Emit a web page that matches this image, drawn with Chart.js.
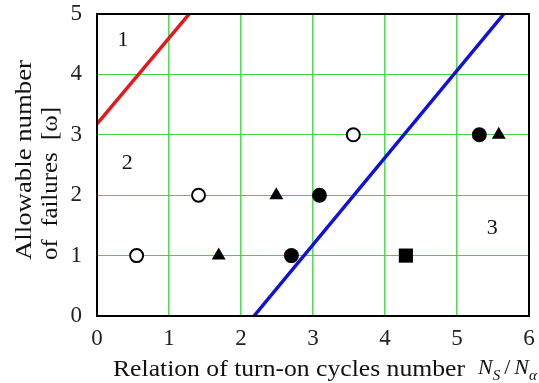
<!DOCTYPE html>
<html lang="en">
<head>
    <meta charset="UTF-8">
    <title>Allowable number of failures</title>
    <script src="https://cdn.jsdelivr.net/npm/chart.js"></script>
    <style>
        body { margin: 0; background: #fff; }
        #wrap { width: 539px; height: 383px; position: relative; }
    </style>
</head>
<body>
    <div id="wrap"><canvas id="failChart"></canvas></div>

    <script>
        // open circles
        const openCircleX = [0.55, 1.41, 3.56];
        const openCircleY = [1, 2, 3];
        // filled circles
        const dotX = [2.70, 3.09, 5.31];
        const dotY = [1, 2, 3];
        // triangles
        const triX = [1.69, 2.49, 5.58];
        const triY = [1, 2, 3];
        // square
        const sqX = [4.29];
        const sqY = [1];
        // boundary lines
        const redLineX = [0, 1.28];
        const redLineY = [3.18, 5];
        const blueLineX = [2.18, 5.65];
        const blueLineY = [0, 5];
        // region labels
        const regionText = ["1", "2", "3"];
        const regionX = [0.36, 0.42, 5.49];
        const regionY = [4.57, 2.53, 1.46];

        const serif = "'Liberation Serif', 'DejaVu Serif', serif";
        const pts = (xs, ys) => xs.map((x, i) => ({ x: x, y: ys[i] }));

        const extras = {
            id: "extras",
            afterDraw(chart) {
                const ctx = chart.ctx;
                const a = chart.chartArea;
                const xs = chart.scales.x, ys = chart.scales.y;
                ctx.save();
                ctx.strokeStyle = "#000";
                ctx.lineWidth = 2;
                ctx.strokeRect(a.left, a.top, a.right - a.left, a.bottom - a.top);

                ctx.fillStyle = "#111";
                ctx.font = "22px " + serif;
                ctx.textAlign = "center";
                ctx.textBaseline = "middle";
                regionText.forEach((t, i) => {
                    ctx.fillText(t, xs.getPixelForValue(regionX[i]), ys.getPixelForValue(regionY[i]));
                });

                // x axis title with subscripts
                ctx.textAlign = "left";
                ctx.textBaseline = "alphabetic";
                ctx.font = "23px " + serif;
                let x = 113, base = 376;
                const main = "Relation of turn-on cycles number";
                const w = ctx.measureText(main).width;
                ctx.save();
                ctx.translate(x, base);
                ctx.scale(352 / w, 1);
                ctx.fillText(main, 0, 0);
                ctx.restore();
                x = 478;
                ctx.font = "italic 22px " + serif;
                ctx.fillText("N", x, base - 2);
                x += ctx.measureText("N").width;
                ctx.font = "italic 15px " + serif;
                ctx.fillText("S", x, base + 4);
                x += ctx.measureText("S").width + 4;
                ctx.font = "22px " + serif;
                ctx.fillText("/", x, base - 2);
                x += ctx.measureText("/").width + 4;
                ctx.font = "italic 22px " + serif;
                ctx.fillText("N", x, base - 2);
                x += ctx.measureText("N").width;
                ctx.font = "italic 15px " + serif;
                ctx.fillText("α", x, base + 4);

                // y axis title, two lines rotated
                ctx.translate(0, 260);
                ctx.rotate(-Math.PI / 2);
                ctx.textAlign = "left";
                ctx.font = "24px " + serif;
                const l1 = "Allowable number", l2 = "of  failures  [ω]";
                ctx.save();
                ctx.scale(200 / ctx.measureText(l1).width, 1);
                ctx.fillText(l1, 0, 31);
                ctx.restore();
                ctx.save();
                ctx.scale(153 / ctx.measureText(l2).width, 1);
                ctx.fillText(l2, 0, 57);
                ctx.restore();
                ctx.restore();
            }
        };

        const gridGreen = "#3fd63f";
        const tickFont = { family: serif, size: 23 };

        new Chart(document.getElementById("failChart"), {
            type: "scatter",
            data: {
                datasets: [
                    { data: pts(redLineX, redLineY), showLine: true, borderColor: "#e8151b", borderWidth: 3.5, pointRadius: 0 },
                    { data: pts(blueLineX, blueLineY), showLine: true, borderColor: "#1010dd", borderWidth: 3.5, pointRadius: 0 },
                    { data: pts(openCircleX, openCircleY), pointStyle: "circle", pointRadius: 6.5, backgroundColor: "#fff", borderColor: "#000", borderWidth: 2 },
                    { data: pts(dotX, dotY), pointStyle: "circle", pointRadius: 7.5, backgroundColor: "#000", borderColor: "#000", borderWidth: 0 },
                    { data: pts(triX, triY), pointStyle: "triangle", pointRadius: 8, backgroundColor: "#000", borderColor: "#000", borderWidth: 0 },
                    { data: pts(sqX, sqY), pointStyle: "rect", pointRadius: 10, backgroundColor: "#000", borderColor: "#000", borderWidth: 0 }
                ]
            },
            options: {
                responsive: true,
                maintainAspectRatio: false,
                animation: false,
                layout: { padding: { top: 14, right: 6, left: 0, bottom: 0 } },
                plugins: { legend: { display: false }, tooltip: { enabled: false } },
                scales: {
                    x: {
                        min: 0, max: 6,
                        grid: { color: "#55dd55", lineWidth: 1.6, drawTicks: false },
                        border: { color: "#000", width: 2 },
                        ticks: { stepSize: 1, padding: 9, color: "#222", font: tickFont },
                        afterFit: s => { s.height = 67; s.paddingLeft = 0; s.paddingRight = 0; }
                    },
                    y: {
                        min: 0, max: 5,
                        grid: { color: gridGreen, lineWidth: 1, drawTicks: false },
                        border: { color: "#000", width: 2 },
                        ticks: { stepSize: 1, padding: 15, color: "#222", font: tickFont },
                        afterFit: s => { s.width = 97; s.paddingTop = 0; s.paddingBottom = 0; }
                    }
                }
            },
            plugins: [extras]
        });
    </script>
</body>
</html>
